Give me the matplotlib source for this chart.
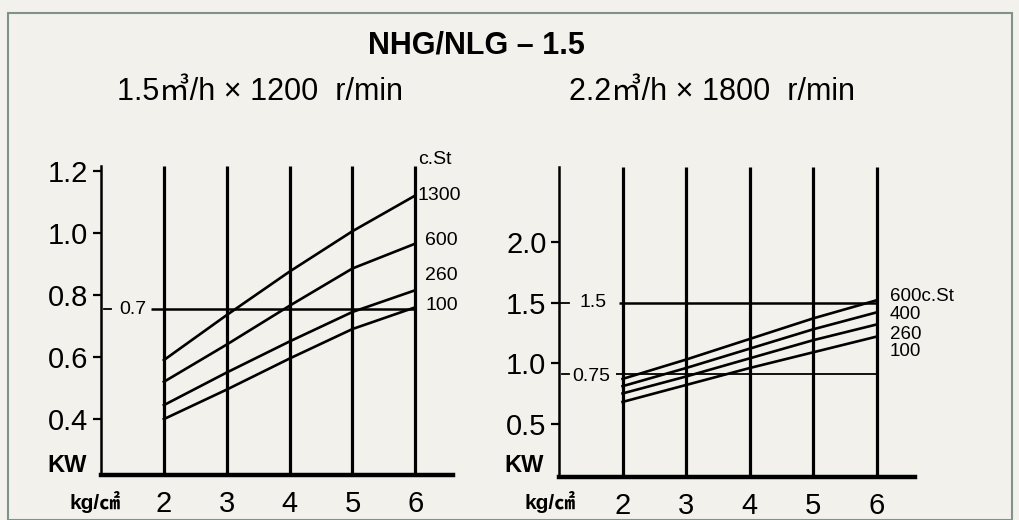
import matplotlib
matplotlib.use("Agg")
import matplotlib.pyplot as plt
from matplotlib.patches import Rectangle

# Pump power curves NHG/NLG-1.5: power (KW) vs discharge pressure (kg/cm2)
PRESSURE = [2, 3, 4, 5, 6]
PRESSURE_LABELS = ["2", "3", "4", "5", "6"]

# left chart: 1.5 m3/h x 1200 r/min
LEFT_VISCOSITY = ["1300", "600", "260", "100"]
LEFT_KW_1300 = [0.59, 0.735, 0.875, 1.005, 1.12]
LEFT_KW_600 = [0.52, 0.64, 0.765, 0.885, 0.965]
LEFT_KW_260 = [0.445, 0.55, 0.65, 0.745, 0.815]
LEFT_KW_100 = [0.40, 0.495, 0.595, 0.69, 0.76]
LEFT_YTICKS = [0.4, 0.6, 0.8, 1.0, 1.2]
LEFT_REF = 0.753
LEFT_REF_LABEL = "0.7"

# right chart: 2.2 m3/h x 1800 r/min
RIGHT_VISCOSITY = ["600c.St", "400", "260", "100"]
RIGHT_KW_600 = [0.87, 1.03, 1.20, 1.37, 1.52]
RIGHT_KW_400 = [0.81, 0.96, 1.12, 1.28, 1.42]
RIGHT_KW_260 = [0.75, 0.89, 1.04, 1.19, 1.32]
RIGHT_KW_100 = [0.68, 0.82, 0.96, 1.09, 1.22]
RIGHT_YTICKS = [0.5, 1.0, 1.5, 2.0]
RIGHT_REF_HIGH = 1.5
RIGHT_REF_LOW = 0.91
RIGHT_REF_LABELS = ["1.5", "0.75"]

BG = "#f2f1ec"
FONT = ["Liberation Sans", "Noto Sans CJK JP", "DejaVu Sans"]
plt.rcParams["font.family"] = FONT

W, H = 1019, 520
fig = plt.figure(figsize=(W / 100, H / 100), dpi=100)
fig.patch.set_facecolor(BG)
fig.patches.append(Rectangle((8 / W, 0), 1004 / W, 507 / H, transform=fig.transFigure,
                             fill=False, edgecolor="#7f938a", lw=1.5))


def px_axes(left, right, bottom, top):
    return fig.add_axes([left / W, 1 - bottom / H, (right - left) / W, (bottom - top) / H])


def setup(ax, ylo, yhi, yticks):
    ax.set_facecolor("none")
    ax.set_xlim(1, 6.6)
    ax.set_ylim(ylo, yhi)
    for s in ["top", "right"]:
        ax.spines[s].set_visible(False)
    ax.spines["left"].set_linewidth(1.8)
    ax.spines["bottom"].set_linewidth(3.2)
    ax.vlines(PRESSURE, ylo, yhi, colors="black", lw=2.3)
    ax.set_yticks(yticks)
    ax.set_yticklabels([f"{t:.1f}" for t in yticks])
    ax.tick_params(axis="y", direction="out", length=6, width=1.6, pad=3, labelsize=21)
    ax.set_xticks(PRESSURE)
    ax.set_xticklabels(PRESSURE_LABELS)
    ax.tick_params(axis="x", length=0, pad=11, labelsize=21)


# ---- left chart ----
ax1 = px_axes(101, 453, 475, 166)
setup(ax1, 0.22, 1.215, LEFT_YTICKS)
for kw in [LEFT_KW_1300, LEFT_KW_600, LEFT_KW_260, LEFT_KW_100]:
    ax1.plot(PRESSURE, kw, color="black", lw=1.9)
ax1.hlines(LEFT_REF, 1.8, 6, colors="black", lw=1.8)
ax1.plot([1.04, 1.16], [LEFT_REF, LEFT_REF], color="black", lw=1.3)
ax1.text(1.5, LEFT_REF, LEFT_REF_LABEL, ha="center", va="center", fontsize=14)
ax1.text(6.04, 1.235, "c.St", ha="left", va="center", fontsize=14, clip_on=False)
for name, y, x in zip(LEFT_VISCOSITY, [1.12, 0.975, 0.863, 0.766], [6.04, 6.16, 6.16, 6.16]):
    ax1.text(x, y, name, ha="left", va="center", fontsize=14)

# ---- right chart ----
ax2 = px_axes(559, 915, 477, 167)
setup(ax2, 0.06, 2.62, RIGHT_YTICKS)
for kw in [RIGHT_KW_600, RIGHT_KW_400, RIGHT_KW_260, RIGHT_KW_100]:
    ax2.plot(PRESSURE, kw, color="black", lw=1.9)
ax2.hlines(RIGHT_REF_HIGH, 1.95, 6, colors="black", lw=1.8)
ax2.hlines(RIGHT_REF_LOW, 1.9, 6, colors="black", lw=1.3)
ax2.plot([0.93, 1.15], [RIGHT_REF_HIGH] * 2, color="black", lw=1.3, clip_on=False)
ax2.plot([1.04, 1.15], [RIGHT_REF_LOW] * 2, color="black", lw=1.3)
ax2.text(1.53, RIGHT_REF_HIGH, RIGHT_REF_LABELS[0], ha="center", va="center", fontsize=14)
ax2.text(1.5, RIGHT_REF_LOW - 0.02, RIGHT_REF_LABELS[1], ha="center", va="center", fontsize=14)
for name, y in zip(RIGHT_VISCOSITY, [1.55, 1.40, 1.24, 1.10]):
    ax2.text(6.2, y, name, ha="left", va="center", fontsize=13.5, clip_on=False)

# ---- headings and units ----
fig.text(476 / W, 1 - 45 / H, "NHG/NLG – 1.5", ha="center", va="center",
         fontsize=22, fontweight="bold")
fig.text(260 / W, 1 - 92 / H, "1.5㎥/h × 1200  r/min", ha="center", va="center", fontsize=22)
fig.text(712 / W, 1 - 92 / H, "2.2㎥/h × 1800  r/min", ha="center", va="center", fontsize=22)
for x in [67, 524]:
    fig.text(x / W, 1 - 466 / H, "KW", ha="center", va="center", fontsize=17, fontweight="bold")
for x in [95, 550]:
    fig.text(x / W, 1 - 502 / H, "kg/㎠", ha="center", va="center", fontsize=15, fontweight="bold")

fig.savefig("out.png", dpi=100, facecolor=BG)
